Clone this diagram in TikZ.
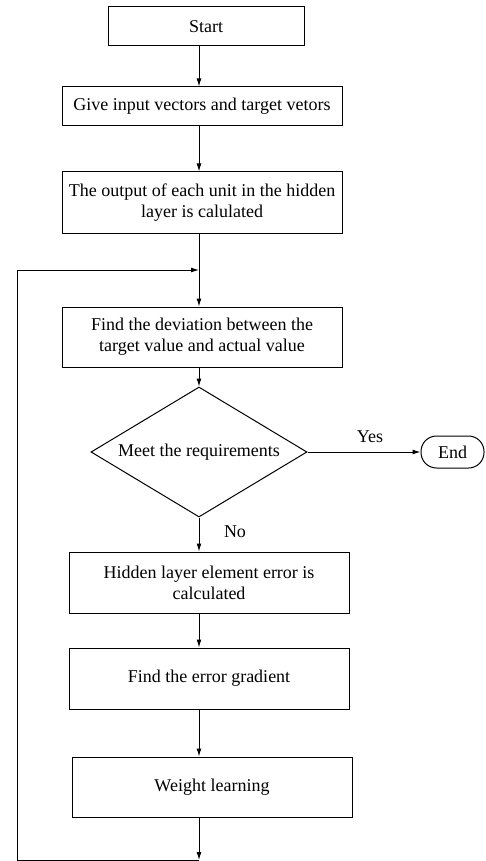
\documentclass[tikz,border=0pt]{standalone}
\usepackage{fontspec}
\setmainfont{Liberation Serif}
\usetikzlibrary{arrows.meta, shapes.geometric}

\begin{document}
\begin{tikzpicture}[x=1pt, y=-1pt, line width=1pt,
        box/.style={draw, rectangle, align=center, inner sep=0pt,
            minimum width=280pt, font=\fontsize{18}{21}\selectfont},
        arr/.style={-{Latex[length=8pt, width=5pt]}}]
        \useasboundingbox (0,0) rectangle (485,861);

        % 流程框
        \node[box, minimum width=196pt, minimum height=39pt] (start) at (206,26.5) {Start};
        \node[box, minimum height=39pt] (give) at (202,106.5) {Give input vectors and target vetors};
        \node[box, minimum height=61pt] (output) at (202,202.5) {The output of each unit in the hidden\\layer is calulated};
        \node[box, minimum height=60pt] (deviation) at (202,337) {Find the deviation between the\\target value and actual value};
        \node[draw, diamond, aspect=1.66, inner sep=0pt, minimum width=216pt, minimum height=130pt,
            font=\fontsize{18}{21}\selectfont] (check) at (199,452) {Meet the requirements};
        \node[draw, rectangle, rounded corners=15.5pt, minimum width=63pt, minimum height=32pt,
            inner sep=0pt, font=\fontsize{18}{21}\selectfont] (finish) at (452.5,452) {End};
        \node[box, minimum height=61pt] (hidden) at (209,582.5) {Hidden layer element error is\\calculated};
        \node[box, minimum height=61pt] (gradient) at (209,678.5) {Find the error gradient};
        \node[box, minimum height=60pt] (weight) at (212,787) {Weight learning};

        % 分支标注
        \node[font=\fontsize{18}{21}\selectfont] (yes) at (370,437) {Yes};
        \node[font=\fontsize{18}{21}\selectfont] (no) at (235,532) {No};

        % 回路拐点
        \coordinate (join) at (199,270);
        \coordinate (back) at (199,860);
        \coordinate (side) at (17,860);

        % 连线
        \draw[arr] (start.south -| check) -- (give.north -| check);
        \draw[arr] (give.south -| check) -- (output.north -| check);
        \draw[arr] (output.south -| check) -- (deviation.north -| check);
        \draw[arr] (deviation.south -| check) -- (check.north);
        \draw[arr] (check.east) -- (finish.west);
        \draw[arr] (check.south) -- (hidden.north -| check);
        \draw[arr] (hidden.south -| check) -- (gradient.north -| check);
        \draw[arr] (gradient.south -| check) -- (weight.north -| check);
        \draw[arr] (weight.south -| check) -- (back);
        \draw[arr] (back) -- (side) |- (join);
    \end{tikzpicture}
\end{document}
